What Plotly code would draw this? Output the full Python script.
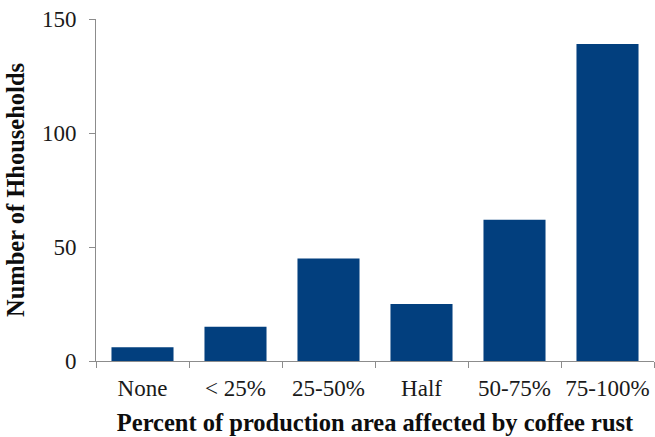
import plotly.graph_objects as go

# Share of each household's coffee area hit by rust, and how many households fall in each band
categories = ["None", "< 25%", "25-50%", "Half", "50-75%", "75-100%"]
households = [6, 15, 45, 25, 62, 139]
y_ticks = [0, 50, 100, 150]

bar_color = "#023f7e"
axis_color = "#8c8c8c"
serif = "Liberation Serif"
tick_font = dict(family=serif, size=23, color="#1a1a1a")
title_font = dict(family=serif, size=24.5, color="#0d0d0d")

fig = go.Figure(
    go.Bar(
        x=categories,
        y=households,
        marker=dict(color=bar_color, line=dict(width=0)),
        width=0.667,
    )
)

fig.update_layout(
    width=655,
    height=437,
    margin=dict(l=96, r=1, t=19, b=76),
    paper_bgcolor="white",
    plot_bgcolor="white",
    showlegend=False,
    font=dict(family=serif, color="#1a1a1a", size=23),
)

fig.update_xaxes(
    type="category",
    automargin=False,
    tickangle=0,
    showline=True,
    linecolor=axis_color,
    linewidth=1,
    ticks="outside",
    tickson="boundaries",
    ticklen=6,
    tickcolor=axis_color,
    ticklabelstandoff=6,
    tickfont=tick_font,
    showgrid=False,
    title=dict(
        text="<b>Percent of production area affected by coffee rust</b>",
        font=title_font,
        standoff=14,
    ),
)

fig.update_yaxes(
    range=[0, 150],
    automargin=False,
    tickvals=y_ticks,
    showline=True,
    linecolor=axis_color,
    linewidth=1,
    ticks="outside",
    ticklen=6,
    tickcolor=axis_color,
    ticklabelstandoff=8,
    tickfont=tick_font,
    showgrid=False,
    zeroline=False,
    title=dict(
        text="<b>Number of Hhouseholds</b>",
        font=title_font,
        standoff=10,
    ),
)

fig.write_html("out.html")
